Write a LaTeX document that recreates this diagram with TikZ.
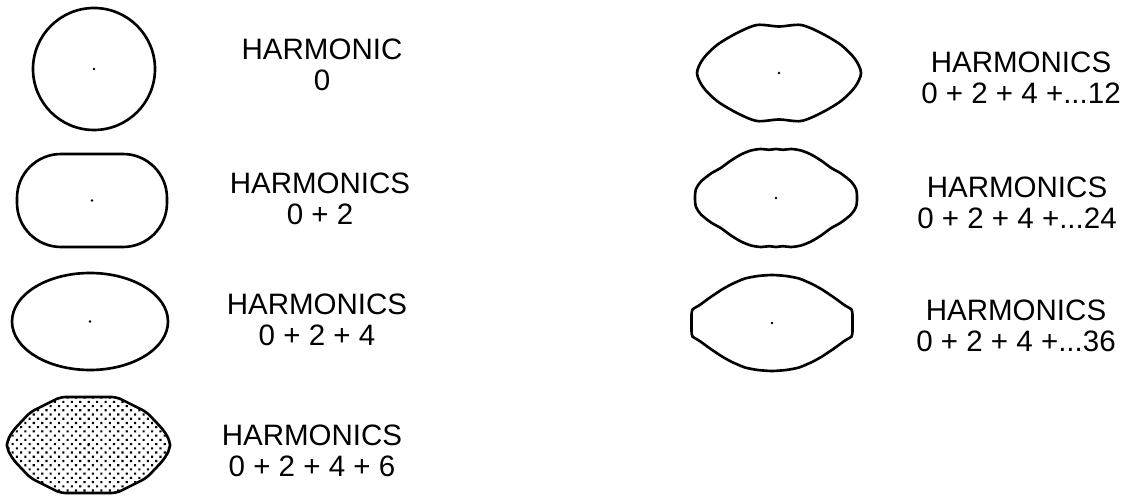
\documentclass[tikz,border=0pt]{standalone}
\usepackage{fontspec}
\setmainfont{Liberation Sans}
\usetikzlibrary{patterns.meta}

\tikzset{
    outline/.style={line width=1.5pt,line join=round},
    harm/.style={align=center,inner sep=0pt,
        font=\fontsize{16.8}{17.6}\selectfont},
}

\begin{document}
\begin{tikzpicture}[x=0.02cm,y=-0.02cm]
    \useasboundingbox (0,0) rectangle (1132,499);

    % centres of the curves
    \coordinate (c0) at (94,69);
    \coordinate (c2) at (92,200.5);
    \coordinate (c4) at (90,321.5);
    \coordinate (c6) at (88.5,445);
    \coordinate (c12) at (779,73);
    \coordinate (c24) at (776,198);
    \coordinate (c36) at (772,323);

    % left column
    \draw[outline] (c0) circle [radius=61];
    \draw[outline,rounded corners=0.88cm] (17,154) rectangle (167,247);
    \draw[outline] (c4) ellipse [x radius=78,y radius=48.5];
    \begin{scope}[shift={(c6)}]
        \draw[outline,rounded corners=3pt,
              pattern={Dots[radius=0.85pt,distance=3.4pt,angle=45]}]
            (28,-48) -- (58,-33) -- (75,-15) -- (81.5,-4) -- (81.5,4)
            -- (75,15) -- (58,33) -- (28,48) -- (-28,48) -- (-58,33)
            -- (-75,15) -- (-81.5,4) -- (-81.5,-4) -- (-75,-15)
            -- (-58,-33) -- (-28,-48) -- cycle;
    \end{scope}

    % right column
    \begin{scope}[shift={(c12)}]
        \draw[outline] plot[smooth cycle] coordinates {
            (82,0) (76,-14) (62,-28) (42,-40) (22,-48) (0,-46.5)
            (-22,-48) (-42,-40) (-62,-28) (-76,-14) (-82,0)
            (-76,14) (-62,28) (-42,40) (-22,48) (0,46.5)
            (22,48) (42,40) (62,28) (76,14)};
    \end{scope}
    \begin{scope}[shift={(c24)}]
        \draw[outline] plot[smooth cycle,tension=0.5] coordinates {
            (81,0) (80,-9) (75,-16.5) (65,-24.5) (55,-30.2) (45,-37.5)
            (35,-43.5) (25,-47.5) (15,-49) (7,-48.2) (0,-49)
            (-7,-48.2) (-15,-49) (-25,-47.5) (-35,-43.5) (-45,-37.5)
            (-55,-30.2) (-65,-24.5) (-75,-16.5) (-80,-9)
            (-81,0) (-80,9) (-75,16.5) (-65,24.5) (-55,30.2) (-45,37.5)
            (-35,43.5) (-25,47.5) (-15,49) (-7,48.2) (0,49)
            (7,48.2) (15,49) (25,47.5) (35,43.5) (45,37.5)
            (55,30.2) (65,24.5) (75,16.5) (80,9)};
    \end{scope}
    \begin{scope}[shift={(c36)}]
        \draw[outline] plot[smooth cycle,tension=0.4] coordinates {
            (80.5,0) (80.5,-8) (79.5,-13.5) (73,-17.5) (62,-25.5)
            (50,-33.5) (40,-39) (27,-44.5) (14,-47) (0,-48)
            (-14,-47) (-27,-44.5) (-40,-39) (-50,-33.5) (-62,-25.5)
            (-73,-17.5) (-79.5,-13.5) (-80.5,-8)
            (-80.5,0) (-80.5,8) (-79.5,13.5) (-73,17.5) (-62,25.5)
            (-50,33.5) (-40,39) (-27,44.5) (-14,47) (0,48)
            (14,47) (27,44.5) (40,39) (50,33.5) (62,25.5)
            (73,17.5) (79.5,13.5) (80.5,8)};
    \end{scope}

    \foreach \c in {c0,c2,c4,c6,c12,c24,c36}{
        \fill (\c) circle [radius=1.3];
    }

    \node[harm] (h0) at (322,64.5) {HARMONIC\\0};
    \node[harm] (h2) at (320,199) {HARMONICS\\0 + 2};
    \node[harm] (h4) at (317,319.5) {HARMONICS\\0 + 2 + 4};
    \node[harm] (h6) at (312,451) {HARMONICS\\0 + 2 + 4 + 6};
    \node[harm] (h12) at (1021,77.5) {HARMONICS\\0 + 2 + 4 +...12};
    \node[harm] (h24) at (1017,203) {HARMONICS\\0 + 2 + 4 +...24};
    \node[harm] (h36) at (1016,326) {HARMONICS\\0 + 2 + 4 +...36};
\end{tikzpicture}
\end{document}
